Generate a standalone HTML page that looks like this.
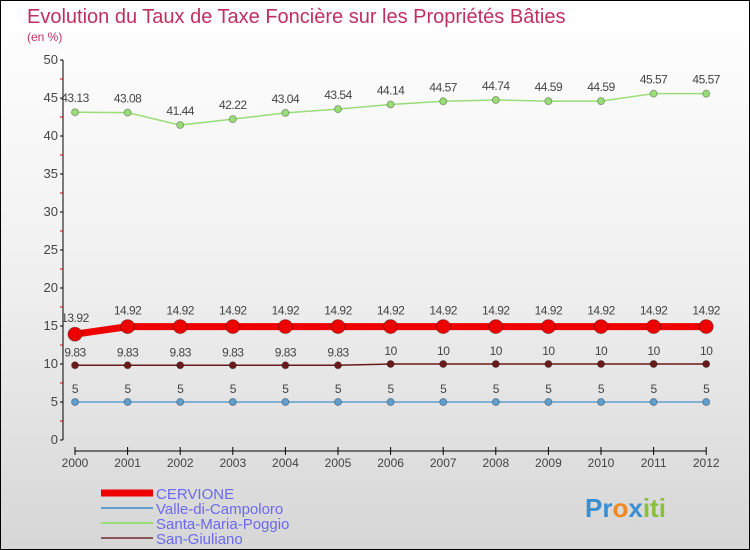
<!DOCTYPE html>
<html><head><meta charset="utf-8"><style>
body{margin:0}
#c{position:relative;width:748px;height:548px;border:1px solid #000;background:linear-gradient(#ffffff 0%,#f0f0f0 50%,#d6d6d6 100%);font-family:"Liberation Sans","DejaVu Sans",sans-serif;overflow:hidden}
</style></head><body>
<div id="c">
<svg width="748" height="548" id="s" xmlns="http://www.w3.org/2000/svg">
<text x="26" y="22" font-size="20" fill="#c0305f">Evolution du Taux de Taxe Foncière sur les Propriétés Bâties</text>
<text x="26" y="40" font-size="12" fill="#c0305f">(en %)</text>
<g id="plot"></g>
<g>
<line x1="100" y1="492" x2="152" y2="492" stroke="#e00" stroke-width="7"/>
<text x="155" y="498" font-size="15" fill="#6a6af0">CERVIONE</text>
<line x1="100" y1="507" x2="152" y2="507" stroke="#5fa0d0" stroke-width="2"/>
<text x="155" y="513" font-size="15" fill="#6a6af0">Valle-di-Campoloro</text>
<line x1="100" y1="522" x2="152" y2="522" stroke="#99dd77" stroke-width="2"/>
<text x="155" y="528" font-size="15" fill="#6a6af0">Santa-Maria-Poggio</text>
<line x1="100" y1="537" x2="152" y2="537" stroke="#8a5555" stroke-width="2"/>
<text x="155" y="543" font-size="15" fill="#6a6af0">San-Giuliano</text>
</g>
<text x="584" y="516" font-size="26" font-weight="bold"><tspan fill="#3a8fd0">Pr</tspan><tspan fill="#f08a20">o</tspan><tspan fill="#3a8fd0">x</tspan><tspan fill="#8ac040">iti</tspan></text>
</svg>
</div>
<script>
const years=[2000,2001,2002,2003,2004,2005,2006,2007,2008,2009,2010,2011,2012];
const cervione=[13.92,14.92,14.92,14.92,14.92,14.92,14.92,14.92,14.92,14.92,14.92,14.92,14.92];
const valle=[5,5,5,5,5,5,5,5,5,5,5,5,5];
const santa=[43.13,43.08,41.44,42.22,43.04,43.54,44.14,44.57,44.74,44.59,44.59,45.57,45.57];
const sangiuliano=[9.83,9.83,9.83,9.83,9.83,9.83,10,10,10,10,10,10,10];
const yTicks=[0,5,10,15,20,25,30,35,40,45,50];
const NS="http://www.w3.org/2000/svg";
const g=document.getElementById('plot');
const X=i=>74+i*52.6;
const Y=v=>439-v*7.6;
function el(t,a,txt){const e=document.createElementNS(NS,t);for(const k in a)e.setAttribute(k,a[k]);if(txt!==undefined)e.textContent=txt;g.appendChild(e);return e;}
let ax=el('line',{x1:62,y1:Y(50),x2:62,y2:Y(0),stroke:'#000'});


yTicks.forEach(v=>{
 el('line',{x1:59,y1:Y(v),x2:62,y2:Y(v),stroke:'#000'});
 if(v<50)el('line',{x1:59,y1:Y(v+2.5),x2:62,y2:Y(v+2.5),stroke:'#d00'});
 const t=el('text',{x:57,y:Y(v)+4,'font-size':13,fill:'#444','text-anchor':'end'},String(v));
 
 
});
let xa=el('line',{x1:X(0),y1:450,x2:X(12),y2:450,stroke:'#000'});


years.forEach((y,i)=>{
 el('line',{x1:X(i),y1:446,x2:X(i),y2:454,stroke:'#000'});
 const t=el('text',{x:X(i),y:466,'font-size':12,fill:'#444','text-anchor':'middle'},String(y));
 
 
});
function series(data,color,w,r,name,off){
 const p=el('polyline',{points:data.map((v,i)=>X(i)+','+Y(v)).join(' '),fill:'none',stroke:color,'stroke-width':w});
 
 
 data.forEach((v,i)=>{
  const c=el('circle',{cx:X(i),cy:Y(v),r:r,fill:color,stroke:'rgba(0,0,0,0.3)','stroke-width':1});
  
  
  el('text',{x:X(i),y:Y(v)-off,'font-size':12,fill:'#444','text-anchor':'middle','letter-spacing':'-0.5'},String(v));
 });
}
series(valle,'#5fa0d0',1.5,3.5,'valle-di-campoloro',9);
series(sangiuliano,'#6a1a1a',1.5,3.5,'san-giuliano',9);
series(santa,'#99dd77',1.5,3.5,'santa-maria-poggio',10);
series(cervione,'#ee0000',7,7,'cervione',12);
</script>
</body></html>
